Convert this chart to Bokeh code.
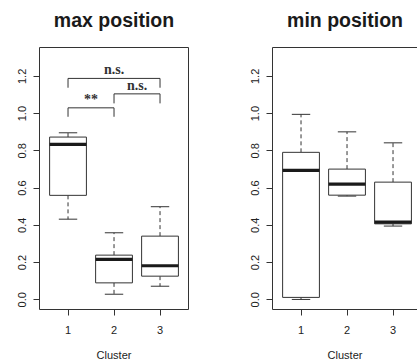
from bokeh.plotting import figure
from bokeh.models import (ColumnDataSource, FixedTicker, LinearAxis,
                          PrintfTickFormatter, Range1d)
from bokeh.layouts import row
from bokeh.embed import file_html
from bokeh.resources import INLINE
from bokeh.core.properties import value

clusters = [1, 2, 3]
y_ticks = [0.0, 0.2, 0.4, 0.6, 0.8, 1.0, 1.2]

# max position: five-number summaries per cluster
max_lower = [0.433, 0.030, 0.073]
max_q1 = [0.561, 0.091, 0.127]
max_median = [0.835, 0.217, 0.183]
max_q3 = [0.874, 0.240, 0.342]
max_upper = [0.897, 0.360, 0.500]

# min position: five-number summaries per cluster
min_lower = [0.002, 0.557, 0.396]
min_q1 = [0.013, 0.562, 0.408]
min_median = [0.695, 0.621, 0.417]
min_q3 = [0.792, 0.702, 0.632]
min_upper = [0.996, 0.902, 0.843]

# pairwise significance brackets (max position)
bracket_from = [1, 2, 1]
bracket_to = [2, 3, 3]
bracket_top = [1.031, 1.106, 1.189]
bracket_drop = [0.983, 1.055, 1.139]
bracket_text = ["**", "n.s.", "n.s."]

SANS = "Liberation Sans"
SERIF = "Liberation Serif"
LINE = "#333333"
BOX_W = 0.8
CAP_W = 0.4
PX_PER_UNIT = 46.0


def edge_axis(p, side, heading=None):
    # bare axis line used as a frame edge; the top one carries the panel heading
    ax = LinearAxis(ticker=FixedTicker(ticks=[]), major_tick_out=0, major_tick_in=0,
                    minor_tick_out=0, minor_tick_in=0, major_label_standoff=0,
                    axis_line_color=LINE, axis_line_width=1)
    if heading is not None:
        ax.axis_label = heading
        ax.axis_label_standoff = 17
        ax.axis_label_text_font = SANS
        ax.axis_label_text_font_size = "19.5px"
        ax.axis_label_text_font_style = "bold"
        ax.axis_label_text_color = "#1a1a1a"
    p.add_layout(ax, side)


def make_panel(title, lower, q1, med, q3, upper, width, left, right, close_right):
    frame_w = width - left - right
    x0 = 0.38
    p = figure(width=width, height=363,
               x_range=Range1d(x0, x0 + frame_w / PX_PER_UNIT),
               y_range=Range1d(-0.052, 1.355),
               output_backend="svg", toolbar_location=None, title=None,
               min_border_left=left, min_border_right=right,
               min_border_top=47, min_border_bottom=54)
    p.outline_line_color = None
    p.xgrid.visible = False
    p.ygrid.visible = False
    p.background_fill_color = "white"
    p.border_fill_color = "white"

    xa = p.xaxis[0]
    xa.ticker = FixedTicker(ticks=clusters)
    xa.major_tick_in = 0
    xa.major_tick_out = 6
    xa.minor_tick_out = 0
    xa.minor_tick_in = 0
    xa.axis_line_color = LINE
    xa.major_tick_line_color = LINE
    xa.major_label_text_font = SANS
    xa.major_label_text_font_size = "11px"
    xa.major_label_text_color = "#222222"
    xa.major_label_standoff = 10
    xa.axis_label = "Cluster"
    xa.axis_label_text_font = SANS
    xa.axis_label_text_font_size = "11px"
    xa.axis_label_text_font_style = "normal"
    xa.axis_label_text_color = "#222222"
    xa.axis_label_standoff = 12

    ya = p.yaxis[0]
    ya.ticker = FixedTicker(ticks=y_ticks)
    ya.formatter = PrintfTickFormatter(format="%.1f")
    ya.major_tick_in = 0
    ya.major_tick_out = 6
    ya.minor_tick_out = 0
    ya.minor_tick_in = 0
    ya.axis_line_color = LINE
    ya.major_tick_line_color = LINE
    ya.major_label_orientation = "vertical"
    ya.major_label_text_font = SANS
    ya.major_label_text_font_size = "11px"
    ya.major_label_text_color = "#222222"
    ya.major_label_standoff = 7

    edge_axis(p, "above", heading=title)
    if close_right:
        edge_axis(p, "right")

    src = ColumnDataSource(dict(
        x=clusters, lower=lower, q1=q1, med=med, q3=q3, upper=upper,
        box_l=[c - BOX_W / 2 for c in clusters],
        box_r=[c + BOX_W / 2 for c in clusters],
        cap_l=[c - CAP_W / 2 for c in clusters],
        cap_r=[c + CAP_W / 2 for c in clusters],
    ))
    # dashed whiskers
    p.segment(x0="x", y0="q3", x1="x", y1="upper", source=src,
              line_color=LINE, line_width=1, line_dash="4 3")
    p.segment(x0="x", y0="q1", x1="x", y1="lower", source=src,
              line_color=LINE, line_width=1, line_dash="4 3")
    # whisker caps
    p.segment(x0="cap_l", y0="upper", x1="cap_r", y1="upper", source=src,
              line_color=LINE, line_width=1)
    p.segment(x0="cap_l", y0="lower", x1="cap_r", y1="lower", source=src,
              line_color=LINE, line_width=1)
    # boxes
    p.vbar(x="x", width=BOX_W, bottom="q1", top="q3", source=src,
           fill_color="white", line_color=LINE, line_width=1)
    # medians
    p.segment(x0="box_l", y0="med", x1="box_r", y1="med", source=src,
              line_color="#1a1a1a", line_width=3.2)
    return p


p_max = make_panel("max position", max_lower, max_q1, max_median, max_q3, max_upper,
                   210, 39, 22, True)
p_min = make_panel("min position", min_lower, min_q1, min_median, min_q3, min_upper,
                   207, 62, 0, False)

# significance brackets on the max-position panel
bsrc = ColumnDataSource(dict(
    xs=[[a, a, b, b] for a, b in zip(bracket_from, bracket_to)],
    ys=[[d, t, t, d] for t, d in zip(bracket_top, bracket_drop)],
    mid=[(a + b) / 2 for a, b in zip(bracket_from, bracket_to)],
    top=bracket_top,
    label=bracket_text,
))
p_max.multi_line(xs="xs", ys="ys", source=bsrc, line_color=LINE, line_width=1)
p_max.text(x="mid", y="top", text="label", source=bsrc,
           text_font=value(SERIF), text_font_style="bold", text_font_size="14px",
           text_color="#333333", text_align="center", text_baseline="bottom",
           y_offset=-1)

layout = row(p_max, p_min)
open("out.html", "w").write(file_html(layout, INLINE))
